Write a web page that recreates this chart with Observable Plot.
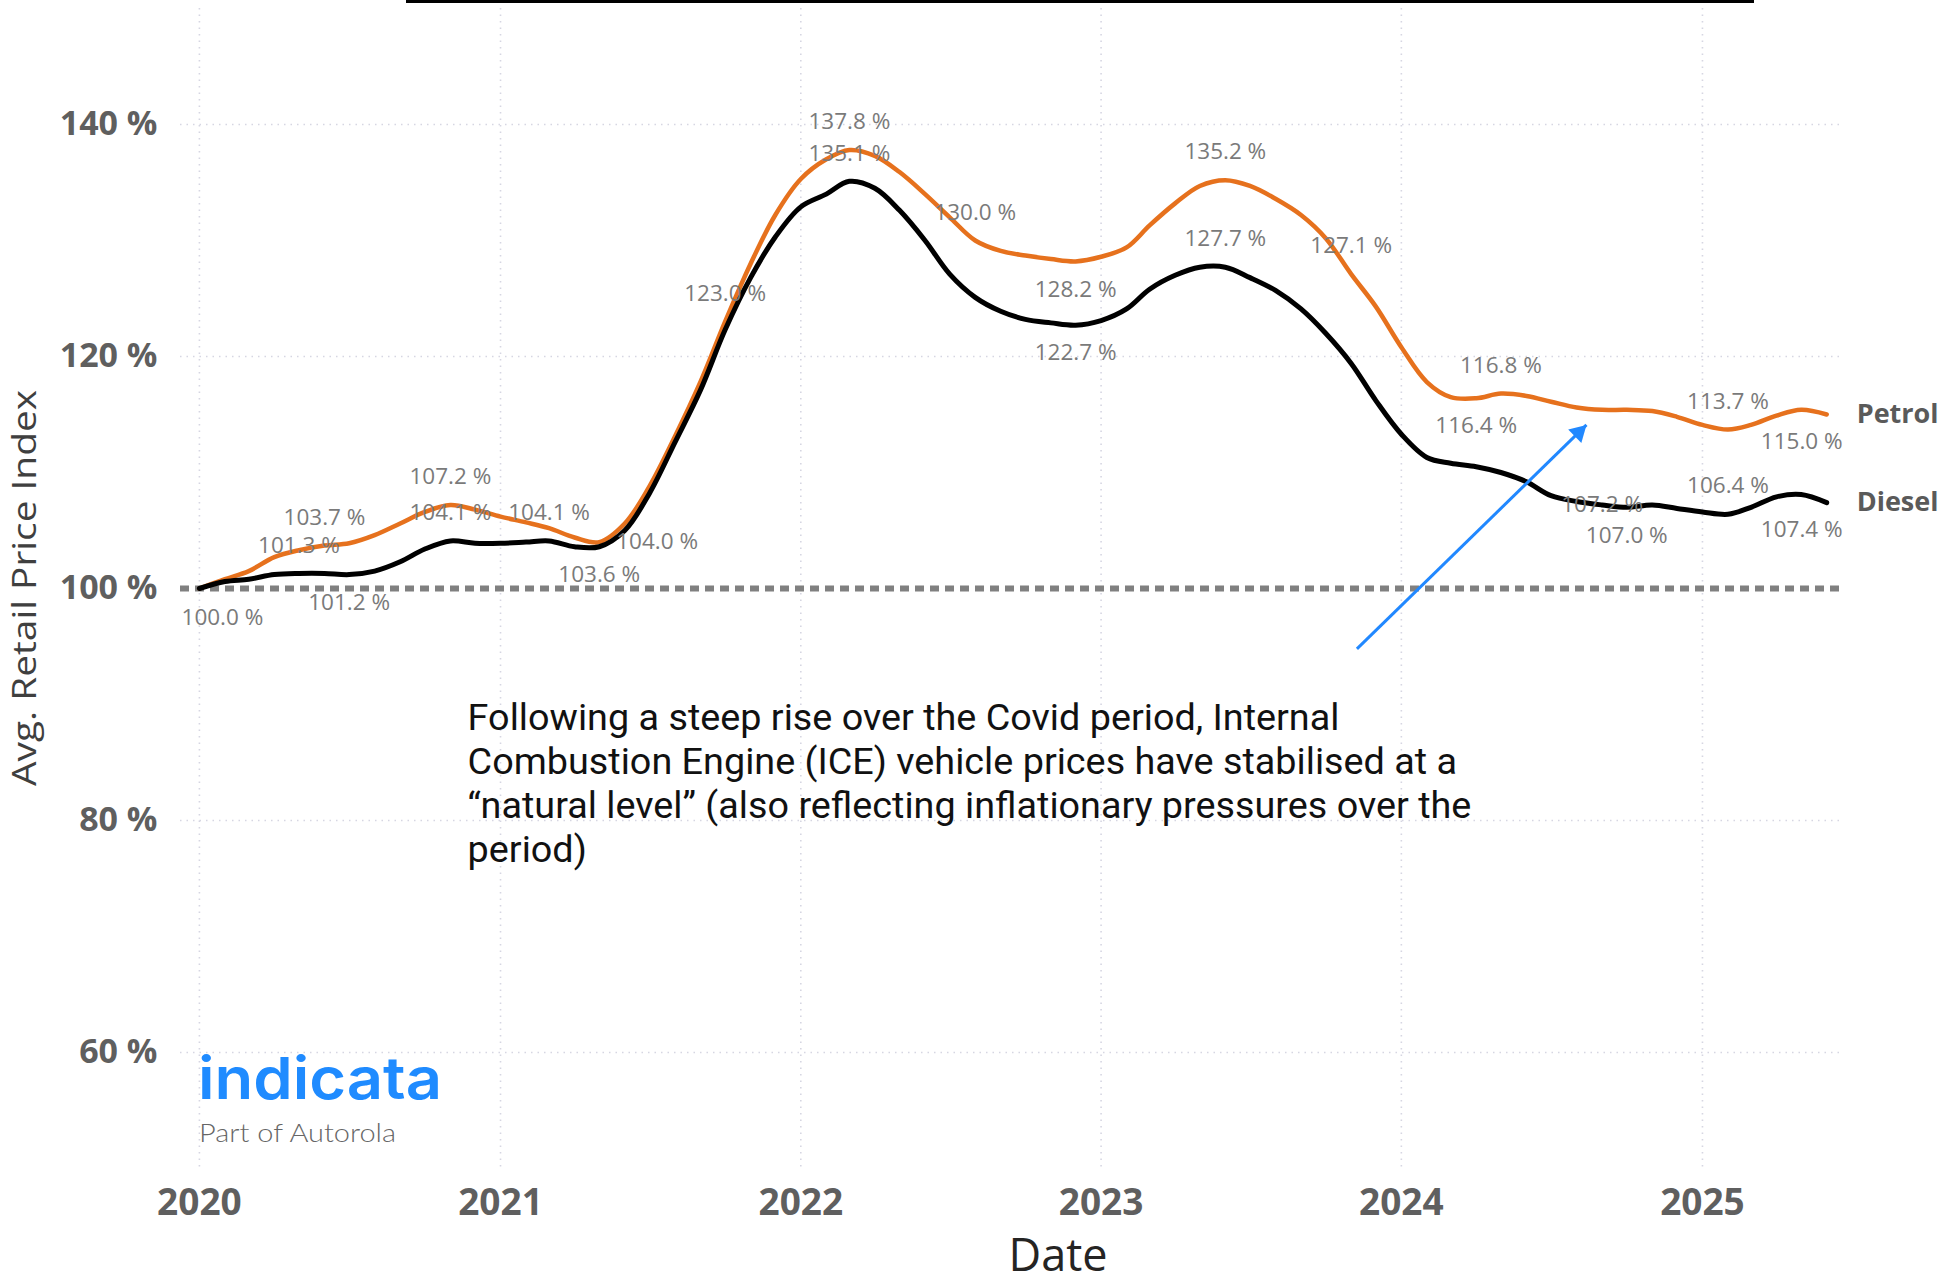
<!DOCTYPE html>
<html><head><meta charset="utf-8">
<script src="https://cdn.jsdelivr.net/npm/d3@7"></script>
<script src="https://cdn.jsdelivr.net/npm/@observablehq/plot@0.6"></script>
<style>
html,body{margin:0;padding:0;background:#fff;overflow:hidden}
#wrap{position:relative;width:1941px;height:1283px;background:#fff}
#wrap svg{position:absolute;left:0;top:0}
</style></head><body><div id="wrap"></div>
<script>
// ---------------- DATA ----------------
const seriesNames = ["Petrol", "Diesel"];
const firstMonth = "2020-01";
const lastMonth = "2025-06";
// Avg. retail price index (%), monthly Jan 2020 – Jun 2025
const petrol = [
  100.0, 100.8, 101.5, 102.7, 103.3, 103.7, 103.9, 104.6, 105.6, 106.6, 107.2, 106.8,
  106.2, 105.7, 105.2, 104.4, 104.0, 105.6, 108.8, 113.1, 117.8, 123.0, 128.0, 132.2,
  135.3, 137.0, 137.8, 137.3, 135.9, 134.0, 132.0, 130.0, 129.1, 128.7, 128.4, 128.2,
  128.6, 129.4, 131.3, 133.2, 134.7, 135.2, 134.7, 133.6, 132.2, 130.2, 127.1, 124.3,
  120.8, 117.8, 116.5, 116.4, 116.8, 116.6, 116.1, 115.6, 115.4, 115.4, 115.3, 114.8,
  114.1, 113.7, 114.1, 114.9, 115.4, 115.0
];
const diesel = [
  100.0, 100.6, 100.8, 101.2, 101.3, 101.3, 101.2, 101.5, 102.3, 103.4, 104.1, 103.9,
  103.9, 104.0, 104.1, 103.6, 103.6, 105.0, 108.2, 112.6, 117.1, 122.3, 126.8, 130.3,
  132.9, 134.0, 135.1, 134.5, 132.6, 130.0, 127.1, 125.1, 123.9, 123.2, 122.9, 122.7,
  123.1, 124.1, 125.8, 127.0, 127.7, 127.7, 126.8, 125.7, 124.1, 122.0, 119.4, 116.2,
  113.3, 111.3, 110.8, 110.5, 110.0, 109.2, 108.0, 107.5, 107.2, 107.0, 107.2, 106.9,
  106.6, 106.4, 107.0, 107.9, 108.1, 107.4
];
const yTicks = [60, 80, 100, 120, 140];
const yearTicks = ["2020", "2021", "2022", "2023", "2024", "2025"];
const baseline = 100;

// data labels shown on the chart (month, placement)
const petrolLabelMonths = ["2020-06","2020-11","2021-05","2021-10","2022-03","2022-08","2022-12","2023-06","2023-11","2024-04","2024-05","2025-02","2025-06"];
const petrolLabelSides  = ["above","above","right","above","above","above","below","above","above","below","above","above","below-left"];
const dieselLabelMonths = ["2020-01","2020-05","2020-07","2020-11","2021-03","2021-05","2022-03","2022-12","2023-06","2024-09","2024-10","2025-02","2025-06"];
const dieselLabelSides  = ["below-right","above","below","above","above","below","above","below","above","center","below","above","below-left"];

// annotation
const noteText = "Following a steep rise over the Covid period, Internal\nCombustion Engine (ICE) vehicle prices have stabilised at a\n“natural level” (also reflecting inflationary pressures over the\nperiod)";
const notePos = {date: "2020-11-22", value: 90.5};
const arrowFrom = {date: "2023-11-08", value: 94.8};
const arrowTo = {date: "2024-08-13", value: 114.1};

// ---------------- BUILD ----------------
const parseM = d3.utcParse("%Y-%m");
const parseD = d3.utcParse("%Y-%m-%d");
const months = d3.utcMonth.range(parseM(firstMonth), d3.utcMonth.offset(parseM(lastMonth), 1));
const rows = [];
months.forEach((d, i) => {
  rows.push({date: d, value: petrol[i], series: "Petrol"});
  rows.push({date: d, value: diesel[i], series: "Diesel"});
});
const fmtM = d3.utcFormat("%Y-%m");
const labelRows = [];
petrolLabelMonths.forEach((m, i) => {
  const r = rows.find(d => d.series === "Petrol" && fmtM(d.date) === m);
  labelRows.push({...r, side: petrolLabelSides[i]});
});
dieselLabelMonths.forEach((m, i) => {
  const r = rows.find(d => d.series === "Diesel" && fmtM(d.date) === m);
  labelRows.push({...r, side: dieselLabelSides[i]});
});
const lastRows = seriesNames.map(s => rows.filter(d => d.series === s).at(-1));

function hasFont(name) {
  const c = document.createElement("canvas").getContext("2d");
  const s = "Following a steep rise 0123 WMmi";
  c.font = "40px monospace"; const a = c.measureText(s).width;
  c.font = `40px "${name}", monospace`; const b = c.measureText(s).width;
  return Math.abs(a - b) > 0.5;
}
const noteFont = ["Roboto", "Open Sans", "Noto Sans"].find(hasFont) || "sans-serif";
const noteSize = 37;

const colors = {Petrol: "#E6711D", Diesel: "#000000"};
const place = {
  "above": {dy: -28},
  "below": {dy: 28},
  "center": {dy: 0},
  "right": {dx: 17, textAnchor: "start"},
  "below-left": {dy: 27, dx: -25},
  "below-right": {dy: 29, dx: 23}
};
const labelMarks = Object.entries(place).map(([side, opt]) =>
  Plot.text(labelRows.filter(d => d.side === side), {
    x: "date", y: "value", text: d => d.value.toFixed(1) + " %",
    fill: "#7a7a7a", fontSize: 22.5, fontFamily: "Open Sans", ...opt
  })
);

const arrowRow = {
  x1: parseD(arrowFrom.date), y1: arrowFrom.value,
  x2: parseD(arrowTo.date), y2: arrowTo.value
};

const chart = Plot.plot({
  width: 1941, height: 1283,
  marginTop: 8, marginBottom: 115, marginLeft: 180, marginRight: 100,
  x: {type: "utc", domain: [parseD("2019-12-09"), parseD("2025-06-19")]},
  y: {domain: [50, 150]},
  style: {fontFamily: "Open Sans", background: "transparent", overflow: "visible"},
  marks: [
    Plot.gridY(yTicks.filter(v => v !== baseline), {stroke: "#d6d6e2", strokeOpacity: 1, strokeWidth: 1.6, strokeDasharray: "1.5,5"}),
    Plot.gridX(yearTicks.map(y => d3.utcParse("%Y")(y)), {stroke: "#d6d6e2", strokeOpacity: 1, strokeWidth: 1.6, strokeDasharray: "1.5,5"}),
    Plot.axisY(yTicks, {tickSize: 0, tickPadding: 23, tickFormat: d => `${d} %`, fontSize: 34, fontWeight: 700, fill: "#5f5f5f", label: null}),
    Plot.axisX(yearTicks.map(y => d3.utcParse("%Y")(y)), {tickSize: 0, tickPadding: 20, tickFormat: "%Y", fontSize: 37, fontWeight: 700, fill: "#5f5f5f", label: null}),
    Plot.ruleY([baseline], {stroke: "#808080", strokeWidth: 6, strokeDasharray: "9,6"}),
    Plot.line(rows.filter(d => d.series === "Petrol"), {x: "date", y: "value", stroke: colors.Petrol, strokeWidth: 4.5, curve: "catmull-rom"}),
    Plot.line(rows.filter(d => d.series === "Diesel"), {x: "date", y: "value", stroke: colors.Diesel, strokeWidth: 5, curve: "catmull-rom"}),
    ...labelMarks,
    Plot.text(lastRows, {x: "date", y: "value", text: "series", dx: 30, textAnchor: "start", fontSize: 27, fontWeight: 700, fill: "#5a5a5a", fontFamily: "Open Sans"}),
    Plot.link([arrowRow], {x1: "x1", y1: "y1", x2: "x2", y2: "y2", stroke: "#2188FF", strokeWidth: 3}),
    Plot.dot([arrowRow], {x: "x2", y: "y2", symbol: "triangle", r: 7, rotate: 45.8, fill: "#2188FF", stroke: "none", dx: -7.8, dy: 7.6}),
    Plot.text([notePos], {x: d => parseD(d.date), y: "value", text: () => noteText, textAnchor: "start", lineAnchor: "top",
      fontSize: noteSize, lineHeight: 44 / noteSize, fontFamily: noteFont, fill: "#111111"})
  ]
});
const wrap = document.getElementById("wrap");
wrap.appendChild(chart);

// condense the annotation text horizontally (reference uses a condensed face)
const noteEl = Array.from(chart.querySelectorAll("text")).find(t => t.textContent.startsWith("Following"));
if (noteEl) {
  const spans = noteEl.querySelectorAll("tspan");
  const w3 = spans.length >= 3 ? spans[2].getComputedTextLength() : noteEl.getComputedTextLength();
  const s = w3 > 0 ? 1004 / w3 : 1;
  const bb = noteEl.getBBox();
  const t0 = noteEl.getAttribute("transform") || "";
  noteEl.setAttribute("transform", `${t0} translate(${bb.x},0) scale(${s},1) translate(${-bb.x},0)`);
}

// ---------------- OVERLAY (titles, logo) ----------------
const ov = d3.select(wrap).append("svg").attr("width", 1941).attr("height", 1283)
  .style("pointer-events", "none");
ov.append("rect").attr("x", 406).attr("y", 0).attr("width", 1348).attr("height", 3).attr("fill", "#000");
ov.append("text").text("Avg. Retail Price Index")
  .attr("transform", "translate(36,588) rotate(-90)")
  .attr("text-anchor", "middle").attr("font-family", "Open Sans").attr("font-size", 33)
  .attr("fill", "#3f3f3f").attr("textLength", 396).attr("lengthAdjust", "spacingAndGlyphs");
ov.append("text").text("Date")
  .attr("x", 1058).attr("y", 1271).attr("text-anchor", "middle")
  .attr("font-family", "Open Sans").attr("font-size", 46).attr("fill", "#252423")
  .attr("textLength", 99).attr("lengthAdjust", "spacingAndGlyphs");
ov.append("text").text("indicata")
  .attr("x", 198).attr("y", 1099).attr("font-family", "Inter").attr("font-weight", 600)
  .attr("font-size", 58).attr("fill", "#1F8BFF")
  .attr("textLength", 244).attr("lengthAdjust", "spacingAndGlyphs");
ov.append("text").text("Part of Autorola")
  .attr("x", 199).attr("y", 1142).attr("font-family", "Lato").attr("font-weight", 300)
  .attr("font-size", 26).attr("fill", "#666666")
  .attr("textLength", 197).attr("lengthAdjust", "spacingAndGlyphs");
</script></body></html>
